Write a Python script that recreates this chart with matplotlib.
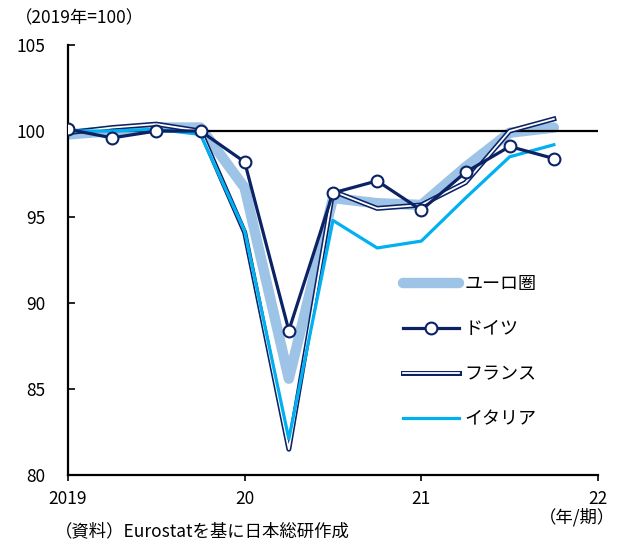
import matplotlib
matplotlib.use("Agg")
import matplotlib.pyplot as plt
import matplotlib.patheffects as pe

plt.rcParams["font.family"] = ["Noto Sans CJK JP", "DejaVu Sans"]

# quarterly real GDP, 2019 average = 100
quarters = [2019.0, 2019.25, 2019.5, 2019.75,
            2020.0, 2020.25, 2020.5, 2020.75,
            2021.0, 2021.25, 2021.5, 2021.75]
euro = [99.8, 100.0, 100.2, 100.2, 96.7, 85.6, 96.1, 95.8, 95.7, 97.9, 99.9, 100.2]
germany = [100.1, 99.6, 100.0, 100.0, 98.2, 88.4, 96.4, 97.1, 95.4, 97.6, 99.1, 98.4]
france = [99.9, 100.2, 100.4, 100.0, 94.1, 81.5, 96.5, 95.5, 95.7, 97.0, 100.0, 100.7]
italy = [100.0, 100.0, 100.1, 99.8, 94.2, 82.1, 94.8, 93.2, 93.6, 96.1, 98.5, 99.2]

xticks = [2019, 2020, 2021, 2022]
xticklabels = ["2019", "20", "21", "22"]
yticks = [80, 85, 90, 95, 100, 105]

navy = "#0b2265"
fig = plt.figure(figsize=(6.19, 5.45), dpi=100)
ax = fig.add_axes([68 / 619, 1 - 475 / 545, 530 / 619, 430 / 545])

ax.axhline(100, color="black", lw=1.6, zorder=2)

ax.plot(quarters, euro, color="#9dc3e6", lw=7.5, solid_capstyle="round",
        solid_joinstyle="round", label="ユーロ圏", zorder=1)
ax.plot(quarters, germany, color=navy, lw=2.3, marker="o", markersize=8.5,
        markerfacecolor="white", markeredgecolor=navy, markeredgewidth=1.5,
        label="ドイツ", zorder=5)
ax.plot(quarters, france, color="white", lw=1.3, label="フランス", zorder=3,
        path_effects=[pe.Stroke(linewidth=3.6, foreground=navy), pe.Normal()])
ax.plot(quarters, italy, color="#00b0f0", lw=2.3, label="イタリア", zorder=4)

ax.set_xlim(2019, 2022)
ax.set_ylim(80, 105)
ax.set_xticks(xticks)
ax.set_xticklabels(xticklabels)
ax.set_yticks(yticks)
ax.tick_params(axis="x", direction="out", length=4, width=1.2, pad=7, labelsize=12.5)
ax.tick_params(axis="y", direction="in", length=5, width=1.2, pad=16, labelsize=12.5)
for side in ["top", "right"]:
    ax.spines[side].set_visible(False)
for side in ["left", "bottom"]:
    ax.spines[side].set_linewidth(1.6)

leg = ax.legend(loc="upper left", bbox_to_anchor=(403 / 619, 1 - 275 / 545),
                bbox_transform=fig.transFigure, frameon=False, fontsize=13,
                handlelength=3.1, handletextpad=0.3, labelspacing=1.5,
                borderpad=0, borderaxespad=0)

fig.text(15 / 619, 1 - 18 / 545, "（2019年=100）", fontsize=12.5, va="center", ha="left")
fig.text(615 / 619, 1 - 517 / 545, "（年/期）", fontsize=12.5, va="center", ha="right")
fig.text(55 / 619, 1 - 531 / 545, "（資料）Eurostatを基に日本総研作成", fontsize=12.5,
         va="center", ha="left")

fig.savefig("out.png", dpi=100)
